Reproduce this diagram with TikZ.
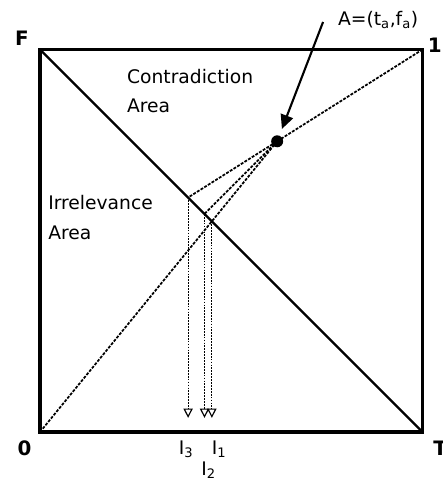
\documentclass[tikz,border=0pt]{standalone}
\usepackage{fontspec}
\setmainfont{DejaVu Sans}
\usetikzlibrary{arrows.meta,calc}

\begin{document}
\begin{tikzpicture}[
  x=1.15cm, y=1.15cm,
  frame/.style={line width=3pt, line join=miter},
  diag/.style={line width=2pt},
  guide/.style={line width=1.5pt, dash pattern=on 2.5pt off 1.2pt},
  drop/.style={line width=1pt, dash pattern=on 1.5pt off 1pt,
               -{Triangle[open, length=8pt, width=8pt]}},
  corner/.style={font=\fontsize{17}{17}\selectfont\bfseries, inner sep=0pt},
  area/.style={font=\fontsize{16}{25}\selectfont, align=left, anchor=west, inner sep=0pt},
  ilabel/.style={font=\fontsize{16}{16}\selectfont, inner sep=0pt},
  dot/.style={circle, fill=black, inner sep=0pt, minimum size=0.36cm},
  pointer/.style={line width=1.8pt, -{Triangle[length=12pt, width=11pt]}, shorten >=6pt}
]
  \useasboundingbox (-1.046,-1.307) rectangle (10.51,11.294);

  % ===== Unit square and its corners =====
  \coordinate (zero) at (0,0);
  \coordinate (T) at (10,0);
  \coordinate (one) at (10,10);
  \coordinate (F) at (0,10);
  \draw[frame] (zero) rectangle (one);
  \draw[diag] (F) -- (T);

  \node[corner] (lF) at (-0.47,10.29) {F};
  \node[corner] (l1) at (10.32,10.12) {1};
  \node[corner] (l0) at (-0.405,-0.43) {0};
  \node[corner] (lT) at (10.46,-0.42) {T};

  % ===== Areas =====
  \node[area] (contra) at (2.27,8.92) {Contradiction\\Area};
  \node[area] (irrel) at (0.21,5.61) {Irrelevance\\Area};

  % ===== Point A and its projections =====
  \coordinate (pa) at (6.2,7.6);
  \coordinate (i3) at (intersection of F--T and one--pa);
  \coordinate (i2) at ($(F)!(pa)!(T)$);
  \coordinate (i1) at (intersection of F--T and zero--pa);
  \coordinate (floor) at (0,0.37);

  \draw[guide] (one) -- (i3);
  \draw[guide] (zero) -- (pa);
  \draw[guide] (pa) -- (i2);

  % Drops to the T axis
  \foreach \p in {i3,i2,i1}
    \draw[drop] (\p) -- (\p |- floor);

  \node[dot] (adot) at (pa) {};

  % ===== Labels =====
  \node[ilabel] (alabel) at (8.84,10.77) {A=(t\textsubscript{a},f\textsubscript{a})};
  \coordinate (atail) at (7.40,10.72);
  \draw[pointer] (atail) -- (adot);

  \node[ilabel, anchor=base] (lab3) at (3.82,-0.60) {I\textsubscript{3}};
  \node[ilabel, anchor=base] (lab1) at (4.68,-0.60) {I\textsubscript{1}};
  \node[ilabel, anchor=base] (lab2) at (4.405,-1.13) {I\textsubscript{2}};
\end{tikzpicture}
\end{document}
